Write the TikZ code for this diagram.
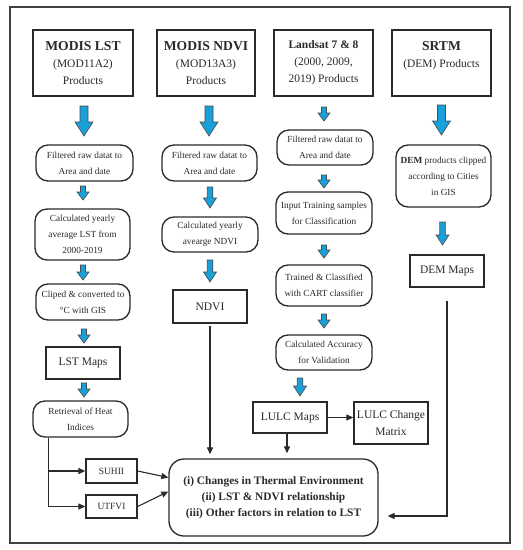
\documentclass[tikz,border=0pt]{standalone}
\usepackage{fontspec}
\setmainfont{Liberation Serif}
\usetikzlibrary{arrows.meta,calc}
\definecolor{bluearr}{HTML}{1AA0D8}
\definecolor{ink}{HTML}{2A2A2A}
\newcommand{\barrow}[6]{% x, ytop, ybot, head width, shaft width, head length
  \draw[blk] ({#1-#5/2},#2) -- ({#1+#5/2},#2) -- ({#1+#5/2},{#3-#6}) -- ({#1+#4/2},{#3-#6}) -- (#1,#3) -- ({#1-#4/2},{#3-#6}) -- ({#1-#5/2},{#3-#6}) -- cycle;}
\newcommand{\bigarr}[3]{\barrow{#1}{#2}{#3}{18}{8}{14}}
\newcommand{\medarr}[3]{\barrow{#1}{#2}{#3}{13}{5.5}{10}}
\newcommand{\smarr}[3]{\barrow{#1}{#2}{#3}{12}{5}{8}}
\begin{document}
\begin{tikzpicture}[x=1pt,y=-1pt,
  box/.style={draw=ink, line width=1.3pt, align=center, inner sep=0pt, text=ink},
  rbox/.style={box, rounded corners=12pt},
  sm/.style={font=\fontsize{9.3}{16}\selectfont},
  md/.style={font=\fontsize{11.5}{17}\selectfont},
  ttl/.style={font=\fontsize{11.5}{17}\selectfont},
  arr/.style={draw=ink, line width=1.1pt, -{Triangle[length=7pt,width=6pt]}},
  blk/.style={fill=bluearr, draw=ink!85, line width=0.6pt, line join=miter}]
\fill[white] (0,0) rectangle (523,550);
\useasboundingbox (0,0) rectangle (523,550);
\draw[draw=ink!90, line width=1.8pt] (10,7) rectangle (510,543);

% top product boxes
\node[box, ttl, minimum width=100, minimum height=66] (lst) at (83,63)
  {{\fontsize{13.6}{17}\selectfont\bfseries MODIS LST}\\(MOD11A2)\\Products};
\node[box, ttl, minimum width=98, minimum height=66] (ndvi) at (206,63)
  {{\fontsize{13.6}{17}\selectfont\bfseries MODIS NDVI}\\(MOD13A3)\\Products};
\node[box, ttl, minimum width=99, minimum height=66] (land) at (323.5,63)
  {\textbf{Landsat 7 \& 8}\\(2000, 2009,\\2019) Products};
\node[box, ttl, minimum width=99, minimum height=66] (srtm) at (441.5,63)
  {{\fontsize{13.6}{17}\selectfont\bfseries SRTM}\\(DEM) Products\\\mbox{}};

% second row
\node[rbox, sm, minimum width=97, minimum height=36] (f1) at (84.5,163) {Filtered raw datat to\\Area and date};
\node[rbox, sm, minimum width=95, minimum height=36] (f2) at (209.5,163) {Filtered raw datat to\\Area and date};
\node[rbox, sm, minimum width=96, minimum height=35] (f3) at (325,147.5) {Filtered raw datat to\\Area and date};
\node[rbox, sm, minimum width=95, minimum height=62] (dem1) at (443.5,176) {\textbf{DEM} products clipped\\according to Cities\\in GIS};

% third row
\node[rbox, sm, minimum width=95, minimum height=51] (c1) at (82.5,234.5) {Calculated yearly\\average LST from\\2000-2019};
\node[rbox, sm, minimum width=96, minimum height=35] (c2) at (210,234.5) {Calculated yearly\\avearge NDVI};
\node[rbox, sm, minimum width=96, minimum height=42] (in3) at (324,213) {Input Training samples\\for Classification};
\node[box, md, minimum width=74, minimum height=32] (demmap) at (447,271) {DEM Maps};

% fourth row
\node[rbox, sm, minimum width=94, minimum height=36] (clip1) at (83,302) {Cliped \& converted to\\°C with GIS};
\node[box, md, minimum width=74, minimum height=33] (ndvibox) at (210,306.5) {NDVI};
\node[rbox, sm, minimum width=96, minimum height=41] (tr3) at (324,285.5) {Trained \& Classified\\with CART classifier};

% fifth row
\node[box, md, minimum width=74, minimum height=32] (lstmap) at (83,363) {LST Maps};
\node[rbox, sm, minimum width=96, minimum height=35] (acc3) at (324,352.5) {Calculated Accuracy\\for Validation};

\node[rbox, sm, minimum width=95, minimum height=36] (ret) at (80.5,419) {Retrieval of Heat\\Indices};
\node[box, md, minimum width=74, minimum height=31] (lulc) at (290,417.5) {LULC Maps};
\node[box, md, minimum width=74, minimum height=42] (chg) at (391,423) {LULC Change\\Matrix};

\node[box, font=\fontsize{9.5}{12}\selectfont, minimum width=51, minimum height=24] (suhii) at (111.5,471) {SUHII};
\node[box, font=\fontsize{9.5}{12}\selectfont, minimum width=51, minimum height=23] (utfvi) at (111.5,506.5) {UTFVI};
\node[box, rounded corners=15pt, font=\fontsize{11.4}{16}\selectfont\bfseries, minimum width=209, minimum height=77] (res) at (273.5,497.5)
  {(i) Changes in Thermal Environment\\(ii) LST \& NDVI relationship\\(iii) Other factors in relation to LST};

% blue block arrows
\bigarr{84}{106}{136}
\bigarr{209}{106}{136}
\bigarr{441.5}{105}{135}
\smarr{324}{107}{121}
\smarr{83}{186}{200}
\smarr{83}{265}{280}
\smarr{84}{329}{343}
\smarr{84}{383}{397}
\medarr{210}{187}{208}
\medarr{210}{260}{282}
\smarr{324}{175}{188}
\smarr{324}{245}{258}
\smarr{324}{314}{328}
\medarr{300}{378}{396}
\medarr{442.5}{222}{245}

% connectors
\coordinate (rb) at ($(ret.south west)+(16,0)$);
\draw[arr] (rb) |- (suhii.west);
\draw[arr] (rb) |- (utfvi.west);
\draw[arr] (suhii.east) -- ($(res.west)+(0,-20)$);
\draw[arr] (utfvi.east) -- ($(res.west)+(0,-6)$);
\draw[arr, shorten <=2pt, shorten >=4pt] (ndvibox.south) -- (ndvibox.south |- res.north);
\draw[arr, shorten >=1pt] ($(lulc.south)+(-3,0)$) -- ($(lulc.south |- res.north)+(-3,-4)$);
\draw[arr] (lulc.east) -- (chg.west |- lulc.east);
\coordinate (demin) at ($(res.east)+(0,18.5)$);
\draw[arr, shorten <=13pt, shorten >=9pt] (demmap.south) |- (demin);
\end{tikzpicture}
\end{document}
